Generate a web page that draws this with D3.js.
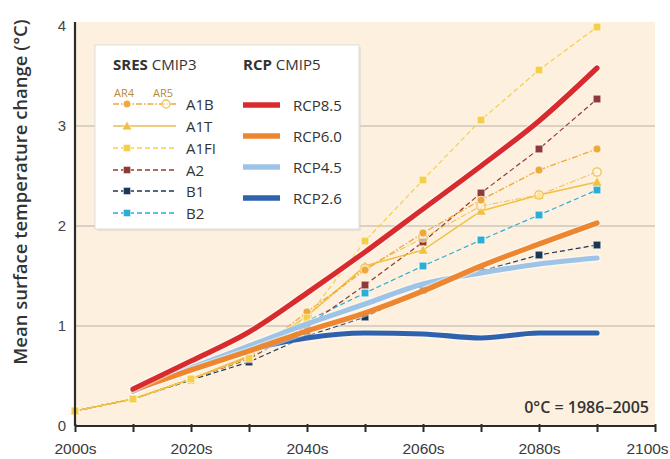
<!DOCTYPE html>
<html>
<head>
<meta charset="utf-8">
<script src="https://cdn.jsdelivr.net/npm/d3@7/dist/d3.min.js"></script>
<style>
  html, body { margin: 0; padding: 0; background: #fff; }
  svg { display: block; font-family: "Open Sans", "Noto Sans", sans-serif; }
</style>
</head>
<body>
<svg id="chart" width="670" height="459"></svg>
<script>
// ---- data ----
const sresYears = [2000, 2010, 2020, 2030, 2040, 2050, 2060, 2070, 2080, 2090];
const rcpYears  = [2010, 2020, 2030, 2040, 2050, 2060, 2070, 2080, 2090];
const xTickYears = [2000, 2010, 2020, 2030, 2040, 2050, 2060, 2070, 2080, 2090, 2100];
const xTickLabels = ["2000s", "", "2020s", "", "2040s", "", "2060s", "", "2080s", "", "2100s"];
const yTicks = [0, 1, 2, 3, 4];

const a1bAR4 = [0.15, 0.27, 0.47, 0.69, 1.14, 1.56, 1.93, 2.26, 2.56, 2.77];
const a1bAR5 = [null, null, null, null, 1.10, 1.58, 1.88, 2.20, 2.31, 2.54];
const a1t    = [0.15, 0.27, 0.47, 0.70, 1.10, 1.60, 1.76, 2.15, 2.31, 2.44];
const a1fi   = [0.15, 0.27, 0.47, 0.68, 1.08, 1.85, 2.46, 3.06, 3.56, 3.99];
const a2     = [0.15, 0.27, 0.47, 0.67, 1.00, 1.41, 1.84, 2.33, 2.77, 3.27];
const b1     = [0.15, 0.27, 0.46, 0.64, 0.90, 1.09, 1.36, 1.55, 1.71, 1.81];
const b2     = [0.15, 0.27, 0.47, 0.69, 1.05, 1.33, 1.60, 1.86, 2.11, 2.36];

const rcp85 = [0.37, 0.65, 0.94, 1.33, 1.74, 2.17, 2.60, 3.05, 3.58];
const rcp60 = [0.36, 0.56, 0.75, 0.95, 1.13, 1.35, 1.60, 1.82, 2.03];
const rcp45 = [0.37, 0.58, 0.80, 1.02, 1.22, 1.42, 1.53, 1.62, 1.68];
const rcp26 = [0.35, 0.58, 0.76, 0.88, 0.93, 0.92, 0.88, 0.93, 0.93];

const sresNames = ["A1B", "A1T", "A1FI", "A2", "B1", "B2"];
const rcpNames = ["RCP8.5", "RCP6.0", "RCP4.5", "RCP2.6"];

// ---- styles ----
const sresStyles = {
  "A1B":  {color: "#f0a83a", dash: "6,2,1.5,2", marker: "circle", w: 1.3},
  "A1B5": {color: "#f3c35a", dash: "6,2,1.5,2", marker: "opencircle", w: 1.1},
  "A1T":  {color: "#f2c03c", dash: null, marker: "triangle", w: 1.4},
  "A1FI": {color: "#f6cf48", dash: "5,3", marker: "square", w: 1.2},
  "A2":   {color: "#8e3a36", dash: "5,3", marker: "square", w: 1.2},
  "B1":   {color: "#1c3656", dash: "5,3", marker: "square", w: 1.2},
  "B2":   {color: "#2aaed6", dash: "5,3", marker: "square", w: 1.2}
};
const rcpColors = {"RCP8.5": "#d92a2e", "RCP6.0": "#ee8630", "RCP4.5": "#9dc4e6", "RCP2.6": "#2f62ac"};

const svg = d3.select("#chart");
const mLeft = 75, mRight = 655, mTop = 22, mBottom = 426;

const x = d3.scaleLinear().domain([2000, 2100]).range([mLeft, mRight]);
const y = d3.scaleLinear().domain([0, 4]).range([mBottom, mBottom - 400]);

// background
svg.append("rect").attr("x", mLeft).attr("y", mTop).attr("width", mRight - mLeft).attr("height", mBottom - mTop)
  .attr("fill", "#fdf0df");

// grid
svg.append("g").selectAll("line").data([1, 2, 3]).join("line")
  .attr("x1", mLeft).attr("x2", mRight)
  .attr("y1", d => y(d)).attr("y2", d => y(d))
  .attr("stroke", "#b9b1a8").attr("stroke-width", 1.2);

const line = d3.line().defined(d => d[1] != null).x(d => x(d[0])).y(d => y(d[1]));

function markerPath(g, type, cx, cy, color, size) {
  const s = size || 1;
  if (type === "circle") {
    g.append("circle").attr("cx", cx).attr("cy", cy).attr("r", 4 * s).attr("fill", color)
      .attr("stroke", "#fff").attr("stroke-opacity", 0.6).attr("stroke-width", 1);
  } else if (type === "opencircle") {
    g.append("circle").attr("cx", cx).attr("cy", cy).attr("r", 4.2 * s).attr("fill", "#fff8e8")
      .attr("fill-opacity", 0.6).attr("stroke", color).attr("stroke-width", 1.3);
  } else if (type === "triangle") {
    const h = 5 * s;
    g.append("path").attr("d", `M${cx},${cy - h}L${cx + h},${cy + h * 0.8}L${cx - h},${cy + h * 0.8}Z`)
      .attr("fill", color).attr("stroke", "#fff").attr("stroke-opacity", 0.5).attr("stroke-width", 0.8);
  } else {
    const h = 3.8 * s;
    g.append("rect").attr("x", cx - h).attr("y", cy - h).attr("width", 2 * h).attr("height", 2 * h)
      .attr("fill", color).attr("stroke", "#fff").attr("stroke-opacity", 0.6).attr("stroke-width", 1);
  }
}

const sresData = {
  "A1B": a1bAR4, "A1B5": a1bAR5, "A1T": a1t, "A1FI": a1fi, "A2": a2, "B1": b1, "B2": b2
};
const drawOrder = ["B1", "B2", "A2", "A1T", "A1B5", "A1B", "A1FI"];

const gS = svg.append("g");
drawOrder.forEach(k => {
  const st = sresStyles[k];
  const pts = sresYears.map((yr, i) => [yr, sresData[k][i]]);
  gS.append("path").datum(pts).attr("d", line).attr("fill", "none")
    .attr("stroke", st.color).attr("stroke-width", st.w)
    .attr("stroke-dasharray", st.dash);
});
drawOrder.forEach(k => {
  const st = sresStyles[k];
  sresYears.forEach((yr, i) => {
    const v = sresData[k][i];
    if (v == null) return;
    markerPath(gS, st.marker, x(yr), y(v), st.color, 1);
  });
});

// RCP lines
const gR = svg.append("g");
const rcpData = {"RCP8.5": rcp85, "RCP6.0": rcp60, "RCP4.5": rcp45, "RCP2.6": rcp26};
["RCP2.6", "RCP4.5", "RCP6.0", "RCP8.5"].forEach(k => {
  const pts = rcpYears.map((yr, i) => [yr, rcpData[k][i]]);
  const curve = d3.line().x(d => x(d[0])).y(d => y(d[1])).curve(d3.curveMonotoneX);
  gR.append("path").datum(pts).attr("d", curve).attr("fill", "none")
    .attr("stroke", "#ffffff").attr("stroke-opacity", 0.45).attr("stroke-width", 8)
    .attr("stroke-linecap", "round");
  gR.append("path").datum(pts).attr("d", curve).attr("fill", "none")
    .attr("stroke", rcpColors[k]).attr("stroke-width", 5.2)
    .attr("stroke-linecap", "round").attr("stroke-linejoin", "round");
});

// axes
const xAxis = d3.axisBottom(x).tickValues(xTickYears).tickSize(6).tickFormat((d, i) => xTickLabels[i]);
const gx = svg.append("g").attr("transform", `translate(0,${mBottom})`).call(xAxis);
gx.select(".domain").attr("stroke", "#2b2b2b").attr("stroke-width", 2.2).attr("d", `M${mLeft},0H${mRight}`);
gx.selectAll(".tick line").attr("stroke", "#2b2b2b").attr("stroke-width", 2).attr("y1", -2);
gx.selectAll(".tick text").attr("fill", "#3a3a3a").attr("font-size", 15.5).attr("y", 0).attr("dy", 0)
  .attr("transform", "translate(0,28)");
gx.selectAll(".tick text").filter(d => d === 2100).attr("dx", -8);

const yAxis = d3.axisLeft(y).tickValues(yTicks).tickSize(0).tickPadding(9).tickFormat(d3.format("d"));
const gy = svg.append("g").attr("transform", `translate(${mLeft},0)`).call(yAxis);
gy.select(".domain").attr("stroke", "#2b2b2b").attr("stroke-width", 2.2).attr("d", `M0,${mBottom}V${mTop}`);
gy.selectAll(".tick text").attr("fill", "#444").attr("font-size", 15);

// y title
svg.append("text").attr("transform", `translate(27,192) rotate(-90)`)
  .attr("text-anchor", "middle").attr("font-size", 18.5).attr("font-weight", 600)
  .attr("fill", "#333").text("Mean surface temperature change (°C)");

// annotation
svg.append("text").attr("x", 649).attr("y", 413).attr("text-anchor", "end")
  .attr("font-size", 16).attr("font-weight", 600).attr("fill", "#333").text("0°C = 1986–2005");

// ---- legend ----
const lg = svg.append("g");
lg.append("rect").attr("x", 97).attr("y", 47).attr("width", 264).attr("height", 184)
  .attr("fill", "#d8d2ca").attr("opacity", 0.5);
lg.append("rect").attr("x", 95).attr("y", 45).attr("width", 264).attr("height", 184)
  .attr("fill", "#ffffff").attr("stroke", "#dddddd").attr("stroke-width", 1);

const t1 = lg.append("text").attr("x", 113).attr("y", 70).attr("font-size", 15).attr("fill", "#333");
t1.append("tspan").attr("font-weight", 700).text("SRES");
t1.append("tspan").text(" CMIP3");
const t2 = lg.append("text").attr("x", 243).attr("y", 70).attr("font-size", 15).attr("fill", "#333");
t2.append("tspan").attr("font-weight", 700).text("RCP");
t2.append("tspan").text(" CMIP5");

lg.append("text").attr("x", 114).attr("y", 97).attr("font-size", 11).attr("fill", "#b58a3a").text("AR4");
lg.append("text").attr("x", 153).attr("y", 97).attr("font-size", 11).attr("fill", "#b58a3a").text("AR5");

const rowY = [104, 126, 148, 170, 191, 213];
sresNames.forEach((k, i) => {
  const st = sresStyles[k];
  const yy = rowY[i];
  lg.append("line").attr("x1", 113).attr("x2", 176).attr("y1", yy).attr("y2", yy)
    .attr("stroke", k === "A1T" ? "#f0cc80" : st.color).attr("stroke-width", k === "A1T" ? 1.8 : 1.5)
    .attr("stroke-dasharray", st.dash);
  markerPath(lg, st.marker, 127, yy, st.color, 0.95);
  if (k === "A1B") markerPath(lg, "opencircle", 166, yy, sresStyles["A1B5"].color, 0.95);
  lg.append("text").attr("x", 186).attr("y", yy + 5.5).attr("font-size", 15).attr("fill", "#333").text(k);
});

const rcpRowY = [105, 136, 167, 198];
rcpNames.forEach((k, i) => {
  const yy = rcpRowY[i];
  lg.append("line").attr("x1", 243).attr("x2", 280).attr("y1", yy).attr("y2", yy)
    .attr("stroke", rcpColors[k]).attr("stroke-width", 5.5);
  lg.append("text").attr("x", 293).attr("y", yy + 5.5).attr("font-size", 15).attr("fill", "#333").text(k);
});
</script>
</body>
</html>
